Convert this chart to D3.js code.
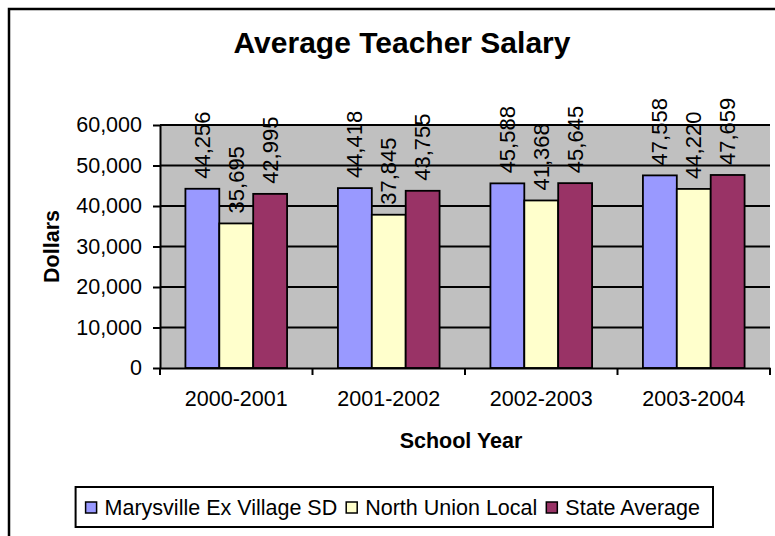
<!DOCTYPE html>
<html>
<head>
<meta charset="utf-8">
<script src="https://cdn.jsdelivr.net/npm/d3@7"></script>
<style>
  body { margin: 0; background: #fff; }
  svg { display: block; font-family: Arial, 'Liberation Sans', sans-serif; }
</style>
</head>
<body>
<div class="chart"></div>
<script>
const years = ['2000-2001', '2001-2002', '2002-2003', '2003-2004'];
const seriesNames = ['Marysville Ex Village SD', 'North Union Local', 'State Average'];
const marysville = [44256, 44418, 45588, 47558];
const northUnion = [35695, 37845, 41368, 44220];
const stateAvg = [42995, 43755, 45645, 47659];
const yTicks = [0, 10000, 20000, 30000, 40000, 50000, 60000];

const colors = ['#9999ff', '#ffffcc', '#993366'];
const seriesValues = [marysville, northUnion, stateAvg];

const width = 775;
const height = 536;
const plot = { left: 160, right: 770, top: 125, bottom: 368 };
const fontSize = '21.5px';

const svg = d3.select('.chart')
    .append('svg')
    .attr('width', width)
    .attr('height', height);

// outer chart border, cut off at right/bottom like the original
svg.append('rect')
    .attr('x', 9)
    .attr('y', 9)
    .attr('width', 800)
    .attr('height', 560)
    .attr('fill', '#fff')
    .attr('stroke', '#000')
    .attr('stroke-width', 2.5);

const x0 = d3.scaleBand()
    .domain(years)
    .range([plot.left, plot.right])
    .paddingInner(1 / 3)
    .paddingOuter(1 / 6);

const x1 = d3.scaleBand()
    .domain(d3.range(seriesNames.length))
    .range([0, x0.bandwidth()]);

const y = d3.scaleLinear()
    .domain([0, 60000])
    .range([plot.bottom, plot.top]);

svg.append('rect')
    .attr('x', plot.left)
    .attr('y', plot.top)
    .attr('width', plot.right - plot.left)
    .attr('height', plot.bottom - plot.top)
    .attr('fill', '#c0c0c0');

// gridlines
svg.append('g')
    .selectAll('line')
    .data(yTicks.filter(d => d > 0))
    .enter()
    .append('line')
    .attr('x1', plot.left)
    .attr('x2', plot.right)
    .attr('y1', d => y(d))
    .attr('y2', d => y(d))
    .attr('stroke', '#000')
    .attr('stroke-width', 2);

const fmt = d3.format(',');

const groups = svg.append('g')
    .selectAll('g')
    .data(years)
    .enter()
    .append('g')
    .attr('transform', d => `translate(${x0(d)},0)`);

groups.selectAll('rect')
    .data((d, i) => seriesValues.map((vals, s) => ({ s, v: vals[i] })))
    .enter()
    .append('rect')
    .attr('x', d => x1(d.s))
    .attr('y', d => y(d.v))
    .attr('width', x1.bandwidth())
    .attr('height', d => y(0) - y(d.v))
    .attr('fill', d => colors[d.s])
    .attr('stroke', '#000')
    .attr('stroke-width', 1.8);

groups.selectAll('text')
    .data((d, i) => seriesValues.map((vals, s) => ({ s, v: vals[i] })))
    .enter()
    .append('text')
    .attr('transform', d => `translate(${x1(d.s) + x1.bandwidth() / 2 + 7.5},${y(d.v) - 10}) rotate(-90)`)
    .attr('text-anchor', 'start')
    .style('font-size', '22px')
    .attr('fill', '#000')
    .text(d => fmt(d.v));

// axes
const yAxis = svg.append('g')
    .attr('transform', `translate(${plot.left},0)`)
    .call(d3.axisLeft(y).tickValues(yTicks).tickFormat(fmt).tickSize(7).tickPadding(11).tickSizeOuter(0));
yAxis.select('.domain').attr('stroke-width', 2);
yAxis.selectAll('.tick line').attr('stroke-width', 2);
yAxis.selectAll('text').style('font-size', fontSize).attr('fill', '#000');

const xAxis = svg.append('g')
    .attr('transform', `translate(0,${plot.bottom})`)
    .call(d3.axisBottom(x0).tickSize(0).tickPadding(23));
xAxis.select('.domain').attr('stroke-width', 2);
xAxis.selectAll('text').style('font-size', fontSize).attr('fill', '#000');

// category separators on x axis
const sep = d3.scaleLinear().domain([0, years.length]).range([plot.left, plot.right]);
svg.append('g')
    .selectAll('line')
    .data(d3.range(years.length + 1))
    .enter()
    .append('line')
    .attr('x1', d => sep(d))
    .attr('x2', d => sep(d))
    .attr('y1', plot.bottom)
    .attr('y2', plot.bottom + 7)
    .attr('stroke', '#000')
    .attr('stroke-width', 2);

// titles
svg.append('text')
    .attr('x', 402)
    .attr('y', 53)
    .attr('text-anchor', 'middle')
    .style('font-size', '30px')
    .style('font-weight', 'bold')
    .text('Average Teacher Salary');

svg.append('text')
    .attr('transform', `translate(59,${(plot.top + plot.bottom) / 2}) rotate(-90)`)
    .attr('text-anchor', 'middle')
    .style('font-size', fontSize)
    .style('font-weight', 'bold')
    .text('Dollars');

svg.append('text')
    .attr('x', 461)
    .attr('y', 448)
    .attr('text-anchor', 'middle')
    .style('font-size', fontSize)
    .style('font-weight', 'bold')
    .text('School Year');

// legend, laid out from measured text widths
const legend = svg.append('g');
const box = legend.append('rect')
    .attr('y', 487)
    .attr('height', 40)
    .attr('fill', '#fff')
    .attr('stroke', '#000')
    .attr('stroke-width', 2);

const items = legend.selectAll('g')
    .data(seriesNames)
    .enter()
    .append('g');

items.append('rect')
    .attr('x', 0)
    .attr('y', 502)
    .attr('width', 11)
    .attr('height', 11)
    .attr('fill', (d, i) => colors[i])
    .attr('stroke', '#000')
    .attr('stroke-width', 1.5);

items.append('text')
    .attr('x', 19)
    .attr('y', 515)
    .style('font-size', fontSize)
    .text(d => d);

const boxRight = 713;
const widths = [];
items.each(function () {
    widths.push(19 + d3.select(this).select('text').node().getComputedTextLength());
});
const total = d3.sum(widths) + 9 * (widths.length - 1);
let cursor = boxRight - 13 - total;
items.attr('transform', (d, i) => {
    const tx = cursor;
    cursor += widths[i] + 9;
    return `translate(${tx},0)`;
});
const boxLeft = boxRight - 13 - total - 10;
box.attr('x', boxLeft).attr('width', boxRight - boxLeft);
</script>
</body>
</html>
